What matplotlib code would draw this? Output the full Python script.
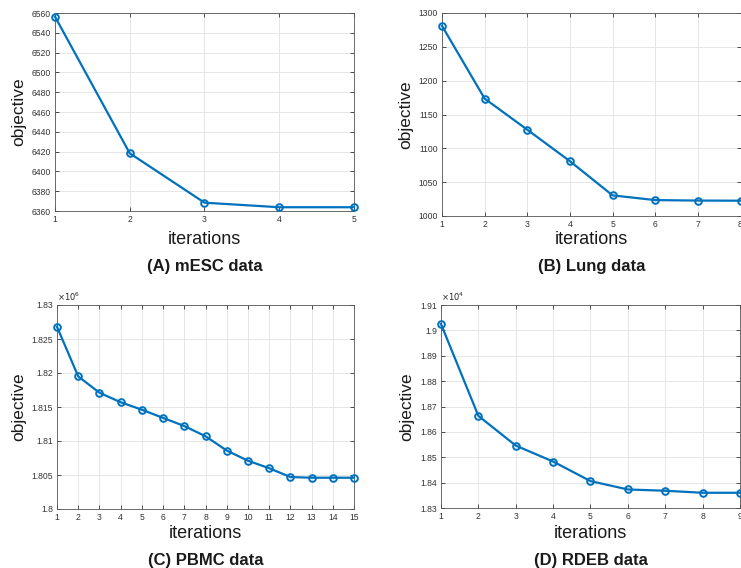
import matplotlib.pyplot as plt
from matplotlib.ticker import FuncFormatter

# objective value per iteration
mesc_obj = [6556.3, 6418.3, 6368.4, 6363.8, 6363.8]
lung_obj = [1281.0, 1173.5, 1127.5, 1081.0, 1030.5, 1023.5, 1022.8, 1022.6]
pbmc_obj = [1.8268e6, 1.8195e6, 1.8171e6, 1.8157e6, 1.8146e6, 1.8134e6, 1.8122e6,
            1.8107e6, 1.8086e6, 1.8071e6, 1.8060e6, 1.8047e6, 1.8046e6, 1.8046e6,
            1.8046e6]
rdeb_obj = [1.9025e4, 1.8663e4, 1.8546e4, 1.8483e4, 1.8406e4, 1.8373e4, 1.8368e4,
            1.8360e4, 1.8360e4]

titles = ["(A) mESC data", "(B) Lung data", "(C) PBMC data", "(D) RDEB data"]
ylims = [(6360, 6560), (1000, 1300), (1.8, 1.83), (1.83, 1.91)]
yticks = [list(range(6360, 6561, 20)),
          list(range(1000, 1301, 50)),
          [1.8, 1.805, 1.81, 1.815, 1.82, 1.825, 1.83],
          [1.83, 1.84, 1.85, 1.86, 1.87, 1.88, 1.89, 1.9, 1.91]]
scales = [1, 1, 1e6, 1e4]
exponents = [None, None, 6, 4]

W, H = 741, 568
# axes boxes in pixels: left, right, top, bottom
boxes = [(55, 354, 13, 211), (442, 740.5, 13, 216),
         (57, 354, 305, 509), (441, 740, 305, 508)]
# label centres (y pixels) for xlabel and title
label_y = [(240, 267), (240, 267), (534, 560), (534, 560)]

plt.rcParams["font.family"] = ["Liberation Sans", "DejaVu Sans"]
fig = plt.figure(figsize=(W / 100, H / 100), dpi=100)

blue = "#0072BD"
for i, obj in enumerate([mesc_obj, lung_obj, pbmc_obj, rdeb_obj]):
    l, r, t, b = boxes[i]
    ax = fig.add_axes([l / W, 1 - b / H, (r - l) / W, (b - t) / H])
    x = list(range(1, len(obj) + 1))
    y = [v / scales[i] for v in obj]
    ax.plot(x, y, color=blue, lw=1.6, marker="o", ms=4.8, mfc="none",
            mew=1.4, clip_on=False, zorder=3)
    ax.set_xlim(1, len(obj))
    ax.set_ylim(*ylims[i])
    ax.set_xticks(x)
    ax.set_yticks(yticks[i])
    ax.yaxis.set_major_formatter(FuncFormatter(lambda v, p: f"{v:g}"))
    ax.grid(True, color="#e6e6e6", lw=0.7)
    ax.set_axisbelow(True)
    ax.tick_params(direction="in", length=3, width=0.6, top=True, right=True,
                   labelsize=6.2, colors="#333333", pad=3)
    for s in ax.spines.values():
        s.set_color("#555555")
        s.set_linewidth(0.6)
    ax.set_ylabel("objective", fontsize=12.5, color="#1a1a1a", labelpad=4)
    xl_y, ti_y = label_y[i]
    cx = (l + r) / 2 / W
    fig.text(cx, 1 - xl_y / H, "iterations", fontsize=13, color="#1a1a1a",
             ha="center", va="center")
    fig.text(cx, 1 - ti_y / H, titles[i], fontsize=12, fontweight="bold",
             color="#1a1a1a", ha="center", va="center")
    if exponents[i]:
        ax.text(0.0, 1.01, r"$\times10^{%d}$" % exponents[i], transform=ax.transAxes,
                fontsize=6, color="#262626", ha="left", va="bottom")

fig.savefig("out.png", dpi=100)
